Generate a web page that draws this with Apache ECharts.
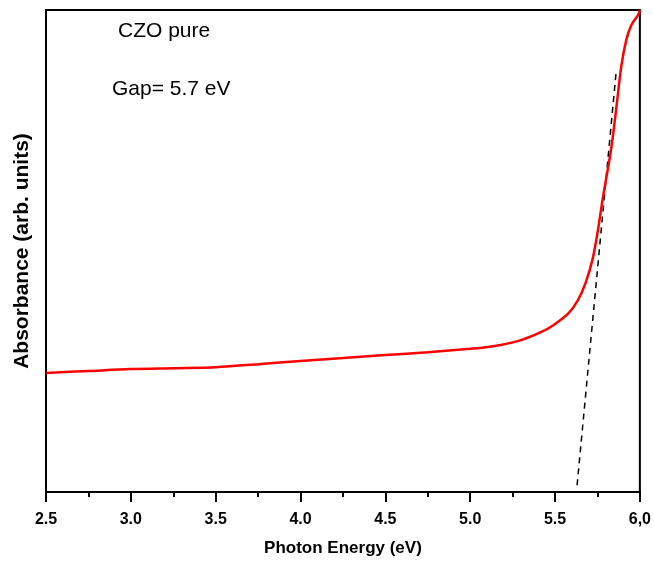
<!DOCTYPE html>
<html>
<head>
<meta charset="utf-8">
<script src="https://cdn.jsdelivr.net/npm/echarts@6/dist/echarts.min.js"></script>
<style>
  html, body { margin: 0; padding: 0; background: #fff; }
</style>
</head>
<body>
<div id="myChart" style="width: 654px; height: 566px;"></div>
<script>
// photon energy (eV) and absorbance (arb. units)
var energy = [2.5, 2.75, 3.0, 3.25, 3.5, 3.75, 4.0, 4.25, 4.5, 4.75, 5.0, 5.1, 5.18, 5.3, 5.42, 5.49, 5.58, 5.635, 5.68, 5.72, 5.75, 5.78, 5.83, 5.86, 5.89, 5.92, 5.95, 5.99, 6.0]
var absorbance = [24.7, 25.1, 25.5, 25.7, 25.9, 26.5, 27.2, 27.8, 28.4, 29.0, 29.7, 30.1, 30.5, 31.5, 33.2, 34.6, 37.1, 39.8, 43.4, 48.1, 53.7, 60.6, 71.0, 79.3, 88.2, 93.8, 96.9, 99.0, 100]
// tangent used for the gap estimate
var fitEnergy = [5.63, 5.86]
var fitAbsorbance = [1.4, 87.1]
var xTickLabels = ['2.5', '3.0', '3.5', '4.0', '4.5', '5.0', '5.5', '6,0']

var curve = energy.map(function (e, i) { return [e, absorbance[i]] })
var fit = fitEnergy.map(function (e, i) { return [e, fitAbsorbance[i]] })

var myChart = echarts.init(document.getElementById('myChart'))
myChart.setOption({
  animation: false,
  textStyle: { fontFamily: 'Liberation Sans, Arial, sans-serif' },
  grid: {
    left: 46,
    right: 14,
    top: 10,
    bottom: 74,
    show: true,
    borderColor: '#000',
    borderWidth: 2
  },
  xAxis: {
    type: 'value',
    min: 2.5,
    max: 6.0,
    interval: 0.5,
    name: 'Photon Energy (eV)',
    nameLocation: 'middle',
    nameGap: 48,
    nameTextStyle: { color: '#000', fontSize: 17, fontWeight: 'bold' },
    axisLine: { lineStyle: { color: '#000', width: 2 } },
    axisTick: { length: 10, lineStyle: { color: '#000', width: 2 } },
    minorTick: { show: true, splitNumber: 2, length: 5, lineStyle: { color: '#000', width: 2 } },
    splitLine: { show: false },
    axisLabel: {
      color: '#000',
      fontSize: 16,
      fontWeight: 'bold',
      margin: 20,
      formatter: function (v) {
        var i = Math.round((v - 2.5) / 0.5)
        return xTickLabels[i]
      }
    }
  },
  yAxis: {
    type: 'value',
    min: 0,
    max: 100,
    name: 'Absorbance (arb. units)',
    nameLocation: 'middle',
    nameGap: 13,
    nameTextStyle: { color: '#000', fontSize: 21, fontWeight: 'bold' },
    axisLine: { show: true, lineStyle: { color: '#000', width: 2 } },
    axisTick: { show: false },
    axisLabel: { show: false },
    splitLine: { show: false }
  },
  graphic: [
    {
      type: 'text',
      left: 118,
      top: 21,
      style: { text: 'CZO pure', fontSize: 21, fill: '#000', fontFamily: 'Liberation Sans, Arial, sans-serif' }
    },
    {
      type: 'text',
      left: 112,
      top: 79,
      style: { text: 'Gap= 5.7 eV', fontSize: 21, fill: '#000', fontFamily: 'Liberation Sans, Arial, sans-serif' }
    }
  ],
  series: [
    {
      type: 'line',
      data: fit,
      symbol: 'none',
      lineStyle: { color: '#000', width: 1.5, type: [6, 5] },
      z: 1
    },
    {
      type: 'line',
      data: curve,
      symbol: 'none',
      smooth: 0.3,
      lineStyle: { color: '#ff0000', width: 2.5 },
      z: 2
    }
  ]
})
</script>
</body>
</html>
